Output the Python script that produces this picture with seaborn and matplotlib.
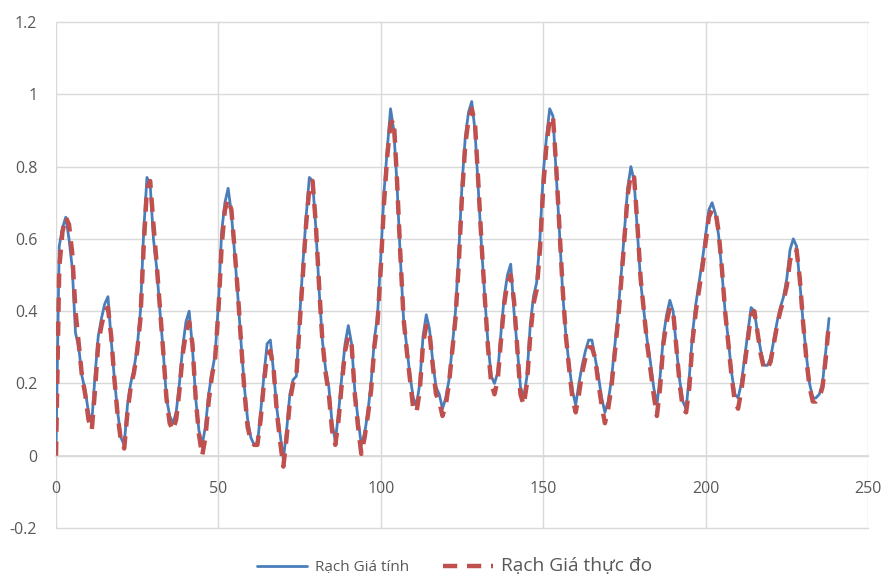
import numpy as np
import pandas as pd
import matplotlib
matplotlib.use("Agg")
import matplotlib.pyplot as plt
import seaborn as sns
from matplotlib.lines import Line2D
from matplotlib.ticker import FuncFormatter

# ---- data ----
calc = [0.02, 0.58, 0.63, 0.66, 0.60, 0.52, 0.34, 0.30, 0.22, 0.18,
        0.12, 0.09, 0.22, 0.33, 0.38, 0.42, 0.44, 0.32, 0.21, 0.12,
        0.05, 0.03, 0.14, 0.20, 0.24, 0.30, 0.40, 0.62, 0.77, 0.75,
        0.60, 0.52, 0.40, 0.29, 0.16, 0.11, 0.09, 0.12, 0.20, 0.30,
        0.37, 0.40, 0.30, 0.16, 0.07, 0.03, 0.08, 0.17, 0.23, 0.28,
        0.42, 0.62, 0.70, 0.74, 0.67, 0.56, 0.44, 0.31, 0.19, 0.10,
        0.05, 0.03, 0.03, 0.12, 0.22, 0.31, 0.32, 0.23, 0.13, 0.06,
        -0.01, 0.07, 0.17, 0.21, 0.22, 0.38, 0.53, 0.66, 0.77, 0.76,
        0.63, 0.46, 0.32, 0.24, 0.19, 0.09, 0.04, 0.12, 0.22, 0.31,
        0.36, 0.31, 0.18, 0.10, 0.03, 0.06, 0.12, 0.20, 0.32, 0.39,
        0.55, 0.73, 0.85, 0.96, 0.90, 0.75, 0.55, 0.38, 0.30, 0.22,
        0.16, 0.14, 0.20, 0.33, 0.39, 0.35, 0.26, 0.19, 0.17, 0.13,
        0.16, 0.21, 0.30, 0.40, 0.56, 0.75, 0.88, 0.95, 0.98, 0.90,
        0.74, 0.58, 0.44, 0.31, 0.22, 0.20, 0.23, 0.34, 0.44, 0.50,
        0.53, 0.40, 0.30, 0.19, 0.16, 0.22, 0.36, 0.44, 0.48, 0.60,
        0.78, 0.88, 0.96, 0.94, 0.78, 0.62, 0.45, 0.33, 0.25, 0.18,
        0.14, 0.20, 0.25, 0.29, 0.32, 0.32, 0.27, 0.22, 0.16, 0.12,
        0.15, 0.21, 0.30, 0.39, 0.50, 0.62, 0.74, 0.80, 0.76, 0.62,
        0.48, 0.40, 0.32, 0.26, 0.19, 0.14, 0.22, 0.33, 0.39, 0.43,
        0.40, 0.30, 0.21, 0.15, 0.13, 0.22, 0.34, 0.42, 0.48, 0.54,
        0.61, 0.68, 0.70, 0.67, 0.61, 0.51, 0.40, 0.32, 0.23, 0.17,
        0.16, 0.20, 0.27, 0.34, 0.41, 0.40, 0.34, 0.29, 0.25, 0.25,
        0.27, 0.32, 0.37, 0.41, 0.44, 0.49, 0.57, 0.60, 0.58, 0.48,
        0.37, 0.28, 0.20, 0.16, 0.16, 0.17, 0.20, 0.29, 0.38]

measured = [0.00, 0.52, 0.62, 0.66, 0.64, 0.56, 0.40, 0.31, 0.22, 0.17,
            0.10, 0.07, 0.18, 0.31, 0.36, 0.40, 0.41, 0.33, 0.21, 0.11,
            0.04, 0.02, 0.12, 0.19, 0.23, 0.29, 0.38, 0.58, 0.74, 0.76,
            0.64, 0.53, 0.41, 0.29, 0.16, 0.09, 0.07, 0.10, 0.18, 0.28,
            0.34, 0.37, 0.31, 0.16, 0.06, 0.00, 0.05, 0.15, 0.22, 0.27,
            0.40, 0.58, 0.68, 0.71, 0.68, 0.57, 0.45, 0.31, 0.18, 0.08,
            0.04, 0.03, 0.03, 0.10, 0.20, 0.28, 0.29, 0.24, 0.12, 0.04,
            -0.03, 0.05, 0.15, 0.20, 0.22, 0.36, 0.50, 0.64, 0.74, 0.76,
            0.64, 0.47, 0.32, 0.23, 0.17, 0.07, 0.03, 0.10, 0.20, 0.29,
            0.33, 0.31, 0.17, 0.08, 0.005, 0.05, 0.11, 0.18, 0.30, 0.37,
            0.52, 0.70, 0.83, 0.92, 0.93, 0.76, 0.56, 0.38, 0.29, 0.21,
            0.13, 0.12, 0.18, 0.31, 0.36, 0.34, 0.25, 0.17, 0.15, 0.11,
            0.14, 0.20, 0.29, 0.38, 0.53, 0.72, 0.86, 0.93, 0.96, 0.92,
            0.76, 0.59, 0.44, 0.30, 0.20, 0.17, 0.21, 0.32, 0.42, 0.48,
            0.50, 0.43, 0.30, 0.17, 0.14, 0.20, 0.33, 0.42, 0.46, 0.57,
            0.74, 0.86, 0.93, 0.94, 0.80, 0.63, 0.46, 0.33, 0.24, 0.16,
            0.12, 0.17, 0.23, 0.27, 0.30, 0.30, 0.27, 0.20, 0.14, 0.09,
            0.13, 0.19, 0.28, 0.37, 0.48, 0.60, 0.72, 0.78, 0.77, 0.64,
            0.49, 0.40, 0.31, 0.24, 0.17, 0.11, 0.19, 0.31, 0.37, 0.41,
            0.40, 0.30, 0.20, 0.13, 0.12, 0.19, 0.32, 0.40, 0.46, 0.52,
            0.59, 0.66, 0.68, 0.68, 0.62, 0.52, 0.40, 0.31, 0.22, 0.15,
            0.13, 0.18, 0.25, 0.32, 0.39, 0.40, 0.34, 0.28, 0.24, 0.24,
            0.26, 0.31, 0.36, 0.40, 0.43, 0.47, 0.54, 0.57, 0.57, 0.49,
            0.37, 0.27, 0.19, 0.15, 0.15, 0.16, 0.19, 0.27, 0.37]

label_calc = "Rạch Giá tính"
label_meas = "Rạch Giá thực đo"
x_ticks = [0, 50, 100, 150, 200, 250]
y_ticks = [-0.2, 0, 0.2, 0.4, 0.6, 0.8, 1, 1.2]

df = pd.DataFrame({"t": np.arange(len(calc)), "calc": calc,
                   "meas": measured[:len(calc)]})

sns.set_theme(style="white")
plt.rcParams['font.family'] = ['Open Sans', 'DejaVu Sans']
plt.rcParams['axes.unicode_minus'] = False

BLUE = "#4A7EBB"
RED = "#C0504D"
GRID = "#D9D9D9"
TXT = "#595959"

fig = plt.figure(figsize=(8.85, 5.75), dpi=100)
ax = fig.add_axes([56/885, 1-528/575, (868-56)/885, (528-22)/575])

sns.lineplot(data=df, x="t", y="calc", ax=ax, color=BLUE, lw=2.0, zorder=3)
sns.lineplot(data=df, x="t", y="meas", ax=ax, color=RED, lw=3.2,
             dashes=False, zorder=4)
ax.lines[-1].set_dashes([3.2, 2.2])

ax.set_xlim(0, 250)
ax.set_ylim(-0.2, 1.2)
ax.set_xticks(x_ticks)
ax.set_yticks(y_ticks)
ax.yaxis.set_major_formatter(FuncFormatter(lambda v, p: f"{v:g}" if abs(v) > 1e-9 else "0"))
ax.set_xlabel("")
ax.set_ylabel("")
ax.grid(True, color=GRID, lw=1.0)
for g in ax.get_xgridlines() + ax.get_ygridlines():
    g.set_clip_on(False)
for s in ["top", "right", "left"]:
    ax.spines[s].set_visible(False)
ax.spines["bottom"].set_position(("data", 0))
ax.spines["bottom"].set_color(GRID)
ax.tick_params(axis="x", length=0, pad=18.5, labelsize=11.5, labelcolor=TXT)
ax.tick_params(axis="y", length=0, pad=13.5, labelsize=11.5, labelcolor=TXT)

h1 = Line2D([], [], color=BLUE, lw=2.0)
h2 = Line2D([], [], color=RED, lw=3.2, dashes=[3.2, 2.2])
leg = fig.legend([h1, h2], [label_calc, label_meas], loc="center",
                 bbox_to_anchor=(0.5136, 1-566/575), ncol=2, frameon=False,
                 fontsize=11, handlelength=3.3, columnspacing=2.2,
                 handletextpad=0.5)
for t in leg.get_texts():
    t.set_color(TXT)
leg.get_texts()[1].set_fontsize(13.8)

fig.savefig("out.png", dpi=100)
